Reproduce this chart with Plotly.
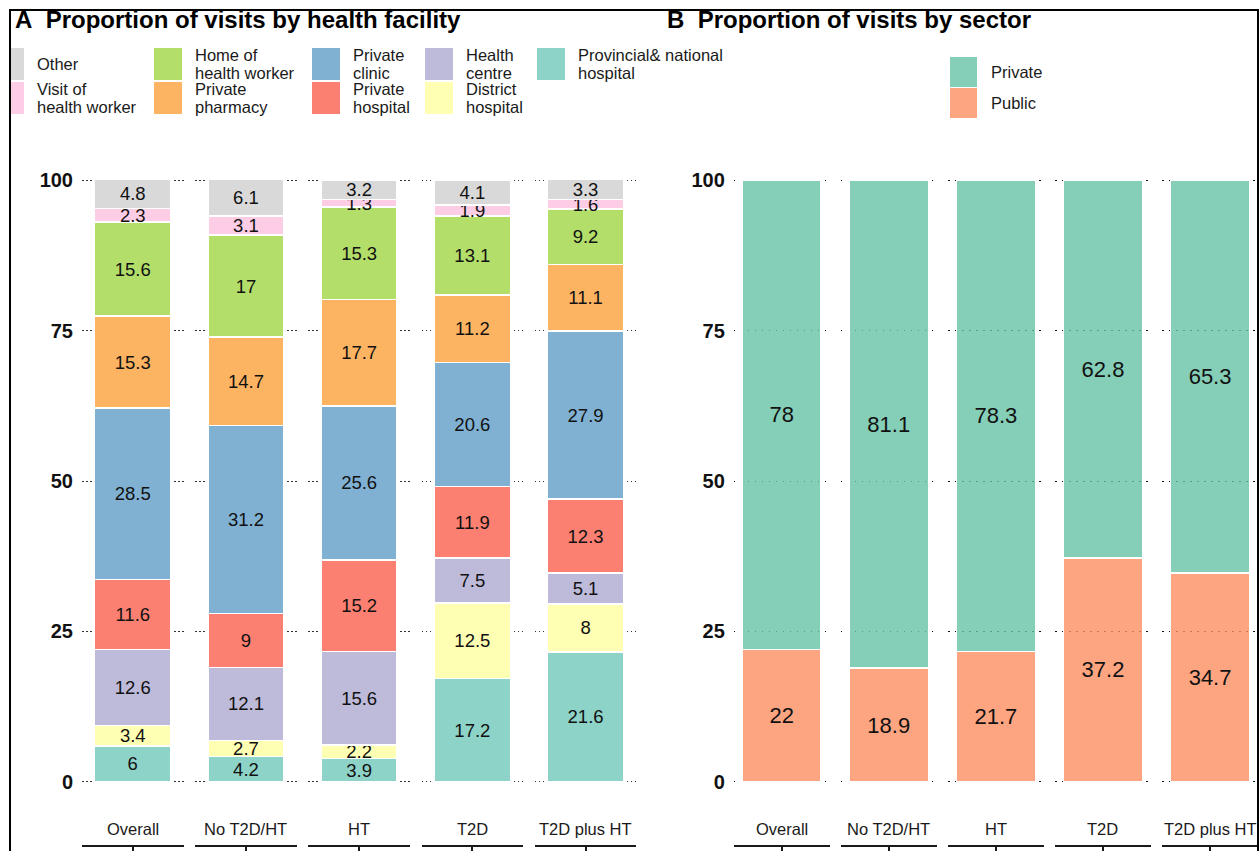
import plotly.graph_objects as go

# ---------------------------------------------------------------- data
groups = ["Overall", "No T2D/HT", "HT", "T2D", "T2D plus HT"]

# facilities in stacking order (bottom -> top)
facilities = [
    "Provincial& national hospital", "District hospital", "Health centre",
    "Private hospital", "Private clinic", "Private pharmacy",
    "Home of health worker", "Visit of health worker", "Other",
]
facility_legend_lines = [
    ["Provincial& national", "hospital"], ["District", "hospital"], ["Health", "centre"],
    ["Private", "hospital"], ["Private", "clinic"], ["Private", "pharmacy"],
    ["Home of", "health worker"], ["Visit of", "health worker"], ["Other"],
]
facility_colors = [
    "#8DD3C7", "#FFFFB3", "#BEBADA", "#FB8072", "#80B1D3",
    "#FDB462", "#B3DE69", "#FCCDE5", "#D9D9D9",
]

provincial_national = [6, 4.2, 3.9, 17.2, 21.6]
district_hospital = [3.4, 2.7, 2.2, 12.5, 8]
health_centre = [12.6, 12.1, 15.6, 7.5, 5.1]
private_hospital = [11.6, 9, 15.2, 11.9, 12.3]
private_clinic = [28.5, 31.2, 25.6, 20.6, 27.9]
private_pharmacy = [15.3, 14.7, 17.7, 11.2, 11.1]
home_of_worker = [15.6, 17, 15.3, 13.1, 9.2]
visit_of_worker = [2.3, 3.1, 1.3, 1.9, 1.6]
other = [4.8, 6.1, 3.2, 4.1, 3.3]

facility_values = [
    provincial_national, district_hospital, health_centre, private_hospital,
    private_clinic, private_pharmacy, home_of_worker, visit_of_worker, other,
]

sectors = ["Public", "Private"]               # stacking order (bottom -> top)
sector_colors = ["rgba(252,141,98,0.8)", "rgba(102,194,165,0.8)"]
sector_public = [22, 18.9, 21.7, 37.2, 34.7]
sector_private = [78, 81.1, 78.3, 62.8, 65.3]
sector_values = [sector_public, sector_private]

y_ticks = [0, 25, 50, 75, 100]

# ---------------------------------------------------------------- layout helpers
W, H = 1260, 851
FONT = "Liberation Sans, Arial, sans-serif"


def px(x):
    return x / W


def py(y):
    return 1 - y / H


def xname(n):
    return "x" if n == 1 else f"x{n}"


def xlayout(n):
    return "xaxis" if n == 1 else f"xaxis{n}"


panel_top, panel_bottom = 150, 812
axis_line_y = 846
strip_y = 829

a_start, a_step, a_width = 82, 113.2, 101.5
b_start, b_step, b_width = 733.8, 107.1, 95.7

fig = go.Figure()

# ---------------------------------------------------------------- panel A
for gi, g in enumerate(groups):
    xa = xname(gi + 1)
    for fi, fac in enumerate(facilities):
        v = facility_values[fi][gi]
        fig.add_trace(go.Bar(
            x=[g], y=[v], width=0.9, name=fac,
            marker=dict(color=facility_colors[fi], line=dict(color="white", width=1.5)),
            text=[f"{v:g}"], textposition="inside", insidetextanchor="middle",
            textangle=0, textfont=dict(family=FONT, size=18.5, color="#111111"),
            xaxis=xa, yaxis="y", showlegend=False,
        ))

# ---------------------------------------------------------------- panel B
for gi, g in enumerate(groups):
    xa = xname(gi + 6)
    for si, sec in enumerate(sectors):
        v = sector_values[si][gi]
        fig.add_trace(go.Bar(
            x=[g], y=[v], width=0.9, name=sec,
            marker=dict(color=sector_colors[si], line=dict(color="white", width=1.5)),
            text=[f"{v:g}"], textposition="inside", insidetextanchor="middle",
            textangle=0, textfont=dict(family=FONT, size=22, color="#111111"),
            xaxis=xa, yaxis="y2", showlegend=False,
        ))

layout_axes = {}
annotations = []
for gi, g in enumerate(groups):
    for k, (start, step, width, half) in enumerate([
        (a_start, a_step, a_width, 0.6),
        (b_start, b_step, b_width, 0.545),
    ]):
        n = gi + 1 + 5 * k
        x0 = start + gi * step
        layout_axes[xlayout(n)] = dict(
            domain=[px(x0), px(x0 + width)], range=[-half, half], type="category",
            anchor="free", position=py(axis_line_y),
            showline=True, linecolor="#1a1a1a", linewidth=1.5,
            ticks="outside", ticklen=8, tickwidth=1.5, tickcolor="#1a1a1a",
            showticklabels=False, showgrid=False, zeroline=False, automargin=False,
        )
        annotations.append(dict(
            text=g, xref=f"{xname(n)} domain", x=0.5, yref="paper", y=py(strip_y),
            xanchor="center", yanchor="middle", showarrow=False,
            font=dict(family=FONT, size=16.5, color="#1a1a1a"),
        ))

yaxis_common = dict(
    domain=[py(panel_bottom), py(panel_top)], range=[-5, 105],
    tickvals=y_ticks, ticks="", showline=False, zeroline=False,
    showgrid=True, gridwidth=1.3,
    tickfont=dict(family=FONT, size=20, color="#111111", weight="bold"),
    ticklabelstandoff=8, automargin=False,
)
layout_axes["yaxis"] = dict(yaxis_common, anchor="x", gridcolor="#333333",
                            griddash="1.5px,2.5px")
layout_axes["yaxis2"] = dict(yaxis_common, anchor="x6", gridcolor="#111111",
                             griddash="1.5px,5.5px")

# ---------------------------------------------------------------- titles
for x_left, title in [(13, "A\u00a0\u00a0Proportion of visits by health facility"),
                      (665, "B\u00a0\u00a0Proportion of visits by sector")]:
    annotations.append(dict(
        text=title, xref="paper", yref="paper", x=px(x_left), y=py(20),
        xanchor="left", yanchor="middle", showarrow=False,
        font=dict(family=FONT, size=24, color="#000000", weight="bold"),
    ))

shapes = []
frame_left = 10

# ---------------------------------------------------------------- legend A (column-major, 2 rows)
leg_cols_x = [-4, 154, 312, 425, 537]
leg_rows_top = [48, 82]
key_w, key_h = 28, 32
line_gap = 18
order = list(range(len(facilities)))[::-1]
for idx, fi in enumerate(order):
    c, r = divmod(idx, 2)
    kx = leg_cols_x[c]
    ky = leg_rows_top[r]
    shapes.append(dict(
        type="rect", xref="paper", yref="paper",
        x0=px(max(kx, frame_left + 1)), x1=px(kx + key_w), y0=py(ky + key_h), y1=py(ky),
        fillcolor=facility_colors[fi], line=dict(width=0),
    ))
    lines = facility_legend_lines[fi]
    centre = ky + key_h / 2
    for li, line in enumerate(lines):
        ly = centre + (li - (len(lines) - 1) / 2) * line_gap
        annotations.append(dict(
            text=line, xref="paper", yref="paper",
            x=px(kx + key_w + 11), y=py(ly), xanchor="left", yanchor="middle",
            align="left", showarrow=False,
            font=dict(family=FONT, size=16.5, color="#1a1a1a"),
        ))

# ---------------------------------------------------------------- legend B
b_leg_x, b_leg_rows = 950, [57, 88]
for r, si in enumerate([1, 0]):
    ky = b_leg_rows[r]
    shapes.append(dict(
        type="rect", xref="paper", yref="paper",
        x0=px(b_leg_x), x1=px(b_leg_x + 27), y0=py(ky + 30), y1=py(ky),
        fillcolor=sector_colors[si], line=dict(width=0),
    ))
    annotations.append(dict(
        text=sectors[si], xref="paper", yref="paper",
        x=px(b_leg_x + 39), y=py(ky + 15), xanchor="left", yanchor="middle",
        showarrow=False, font=dict(family=FONT, size=16.5, color="#1a1a1a"),
    ))

# ---------------------------------------------------------------- outer frame
shapes.append(dict(
    type="rect", xref="paper", yref="paper",
    x0=px(frame_left), x1=px(1258), y0=-0.1, y1=py(10),
    line=dict(color="#000000", width=2), fillcolor="rgba(0,0,0,0)", layer="above",
))

fig.update_layout(
    template="none",
    width=W, height=H, autosize=False,
    margin=dict(l=0, r=0, t=0, b=0, pad=0),
    paper_bgcolor="white", plot_bgcolor="white",
    barmode="stack", showlegend=False,
    uniformtext=dict(mode="show", minsize=18.5),
    annotations=annotations, shapes=shapes,
    **layout_axes,
)

fig.write_html("out.html")
